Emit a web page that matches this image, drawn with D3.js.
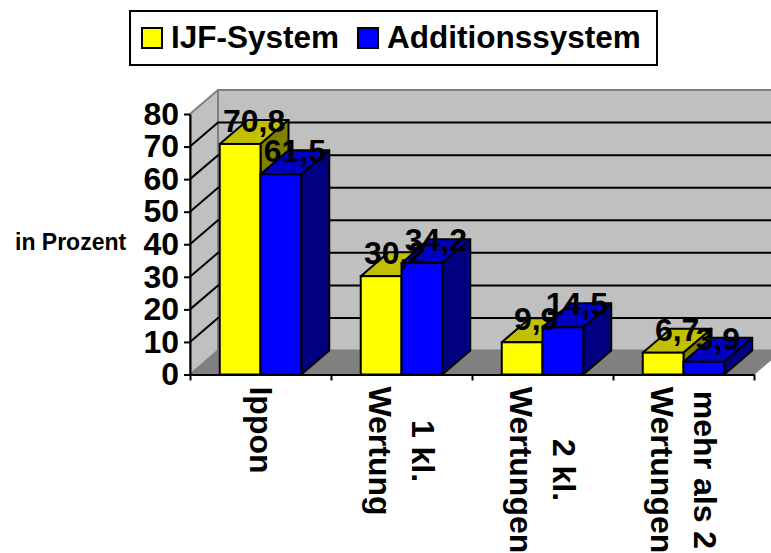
<!DOCTYPE html>
<html>
<head>
<meta charset="utf-8">
<script src="https://cdn.jsdelivr.net/npm/d3@7"></script>
<style>
  html, body { margin: 0; padding: 0; background: #fff; }
  text { font-family: "Liberation Sans", Arial, sans-serif; font-weight: bold; fill: #000; }
</style>
</head>
<body>
<div id="chart"></div>
<script>
// Chart data
const categories = ["Ippon", "1 kl. Wertung", "2 kl. Wertungen", "mehr als 2 Wertungen"];
const categoryLines = [["Ippon"], ["1 kl.", "Wertung"], ["2 kl.", "Wertungen"], ["mehr als 2", "Wertungen"]];
const seriesNames = ["IJF-System", "Additionssystem"];
const ijfValues = [70.8, 30.2, 9.9, 6.7];
const additionValues = [61.5, 34.2, 14.5, 3.9];
const yTicks = [0, 10, 20, 30, 40, 50, 60, 70, 80];
const valueLabels = [["70,8", "30,2", "9,9", "6,7"], ["61,5", "34,2", "14,5", "3,9"]];

const seriesValues = [ijfValues, additionValues];
const frontColours = ["#ffff00", "#0000ff"];
const topColours = ["#c0c000", "#0000c0"];
const sideColours = ["#808000", "#000080"];

const width = 771, height = 553;
const plot = { left: 190, right: 754, bottom: 374.5, top: 114 };
const depthX = 28, depthY = 24; // oblique offset of the 3D box
const fontSize = 32;

const svg = d3.select("#chart").append("svg")
    .attr("width", width)
    .attr("height", height)
    .style("display", "block");

// Scales
const x0 = d3.scaleBand().domain(categories).range([plot.left, plot.right]);
const x1 = d3.scaleBand().domain(seriesNames).range([0, x0.bandwidth()]).paddingOuter(0.73);
const y = d3.scaleLinear().domain([0, 80]).range([plot.bottom, plot.top]);
const xEdges = d3.scaleLinear().domain([0, categories.length]).range([plot.left, plot.right]);

function poly(points, fill, stroke, sw) {
    return svg.append("polygon")
        .attr("points", points.map(p => p.join(",")).join(" "))
        .attr("fill", fill)
        .attr("stroke", stroke)
        .attr("stroke-width", sw)
        .attr("stroke-linejoin", "round");
}

// Walls and floor
let wl = plot.left, wr = plot.right;
poly([[wl + depthX, y(80) - depthY], [wr + depthX, y(80) - depthY], [wr + depthX, y(0) - depthY], [wl + depthX, y(0) - depthY]], "#c0c0c0", "#808080", 2);
poly([[wl, y(80)], [wl + depthX, y(80) - depthY], [wl + depthX, y(0) - depthY], [wl, y(0)]], "#c0c0c0", "#808080", 2);
poly([[wl, y(0)], [wl + depthX, y(0) - depthY], [wr + depthX, y(0) - depthY], [wr, y(0)]], "#808080", "#808080", 1);

// Grid lines on the side and back wall
yTicks.filter(d => d > 0 && d < 80).forEach(d => {
    svg.append("polyline")
        .attr("points", [[wl, y(d)], [wl + depthX, y(d) - depthY], [wr + depthX, y(d) - depthY]].map(p => p.join(",")).join(" "))
        .attr("fill", "none")
        .attr("stroke", "#000")
        .attr("stroke-width", 2);
});

// Bars, one box per value
categories.forEach((c, i) => {
    seriesNames.forEach((s, j) => {
        let x = x0(c) + x1(s),
            w = x1.bandwidth(),
            t = y(seriesValues[j][i]),
            b = y(0);
        poly([[x, t], [x + depthX, t - depthY], [x + w + depthX, t - depthY], [x + w, t]], topColours[j], "#000", 2);
        poly([[x + w, t], [x + w + depthX, t - depthY], [x + w + depthX, b - depthY], [x + w, b]], sideColours[j], "#000", 2);
        svg.append("rect")
            .attr("x", x).attr("y", t)
            .attr("width", w).attr("height", b - t)
            .attr("fill", frontColours[j])
            .attr("stroke", "#000")
            .attr("stroke-width", 2);
    });
});

// Axes
const yAxis = svg.append("g")
    .attr("transform", "translate(" + plot.left + ",0)")
    .call(d3.axisLeft(y).tickValues(yTicks).tickSize(6).tickSizeOuter(0).tickPadding(5));
yAxis.selectAll("text")
    .style("font-family", '"Liberation Sans", Arial, sans-serif')
    .style("font-weight", "bold")
    .style("font-size", fontSize + "px");

const xAxis = svg.append("g")
    .attr("transform", "translate(0," + plot.bottom + ")")
    .call(d3.axisBottom(xEdges).tickValues(d3.range(categories.length + 1)).tickFormat("").tickSize(6).tickSizeOuter(0));
svg.selectAll(".domain, .tick line").attr("stroke", "#000").attr("stroke-width", 2);

// Value labels, on top of the boxes
categories.forEach((c, i) => {
    seriesNames.forEach((s, j) => {
        svg.append("text").text(valueLabels[j][i])
            .attr("x", x0(c) + x1(s) + x1.bandwidth() / 2 + depthX / 2)
            .attr("y", y(seriesValues[j][i]) - depthY / 2)
            .attr("text-anchor", "middle")
            .style("font-size", fontSize + "px");
    });
});

// Category labels, rotated, block centred on each category
const lineGap = 43;
const labelMidY = [430, 451, 470, 470];
categories.forEach((c, i) => {
    let lines = categoryLines[i];
    let cx = x0(c) + x0.bandwidth() / 2;
    lines.forEach((l, k) => {
        let lx = cx + (lines.length - 1) * lineGap / 2 - k * lineGap - 11;
        svg.append("text").text(l)
            .attr("transform", "translate(" + lx + "," + labelMidY[i] + ") rotate(90)")
            .attr("text-anchor", "middle")
            .style("font-size", fontSize + "px");
    });
});

// Y axis title
svg.append("text").text("in Prozent")
    .attr("x", 15).attr("y", 250)
    .style("font-size", "23px");

// Legend
svg.append("rect")
    .attr("x", 130).attr("y", 11)
    .attr("width", 527).attr("height", 54)
    .attr("fill", "#fff")
    .attr("stroke", "#000")
    .attr("stroke-width", 2);
const legendSwatch = [142, 358], legendText = [171, 387];
seriesNames.forEach((s, j) => {
    svg.append("rect")
        .attr("x", legendSwatch[j]).attr("y", 28)
        .attr("width", 20).attr("height", 20)
        .attr("fill", frontColours[j])
        .attr("stroke", "#000")
        .attr("stroke-width", 2);
    svg.append("text").text(s)
        .attr("x", legendText[j]).attr("y", 48)
        .style("font-size", "31.5px");
});
</script>
</body>
</html>
